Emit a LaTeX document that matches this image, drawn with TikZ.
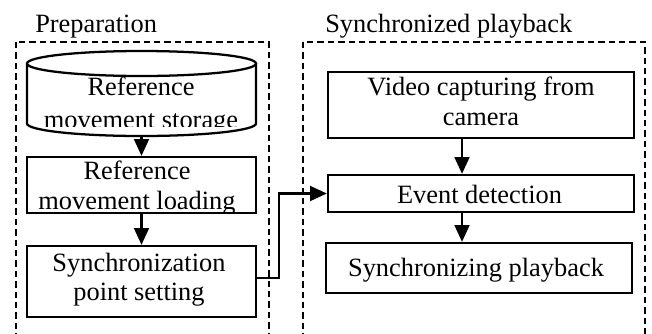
\documentclass[tikz,border=0pt]{standalone}
\usepackage{fontspec}
\setmainfont{Liberation Serif}
\usetikzlibrary{arrows.meta}

% two centred lines whose base is the first line; #1 scales the line pitch
\newcommand{\twolines}[3][1]{{\renewcommand{\arraystretch}{#1}%
  \begin{tabular}[t]{@{}c@{}}#2\\#3\end{tabular}}}

\tikzset{
  txt/.style={anchor=base, inner sep=0pt, font=\fontsize{19.8}{22.5}\selectfont},
  box/.style={draw, line width=1.7pt, inner sep=0pt},
  dashbox/.style={draw, line width=1.2pt, dash pattern=on 4.8pt off 3pt},
  arr/.style={line width=1.7pt, -{Triangle[length=12.5pt,width=11pt]}},
}

\begin{document}
\begin{tikzpicture}[x=0.75pt, y=-0.75pt]
\useasboundingbox (0,0) rectangle (652,333);
\clip (0,0) rectangle (652,333);

% group frames and their titles
\draw[dashbox] (16,42) rectangle (269,350);
\draw[dashbox] (303,42) rectangle (645,350);
\node[txt, anchor=base west] (prep) at (35,32.5) {Preparation};
\node[txt, anchor=base west] (sync) at (325,32.5) {Synchronized playback};

% storage cylinder
\draw[line width=1.7pt] (141.5,63.5) ellipse [x radius=85.875pt, y radius=9.375pt];
\draw[line width=1.7pt] (27,63.5) -- (27,123.5)
  arc [start angle=180, end angle=360, x radius=85.875pt, y radius=9.375pt]
  -- (256,63.5);
\coordinate (cylbot) at (141.5,136);
\begin{scope}
  \clip (0,0) rectangle (652,126);
  \node[txt] (cyltxt) at (141,95.7) {\twolines[1.087]{Reference}{movement storage}};
\end{scope}

% preparation steps
\node[box, minimum width=171.75pt, minimum height=42pt] (load) at (141.5,185) {};
\begin{scope}
  \clip (0,0) rectangle (652,213);
  \node[txt] (loadtxt) at (137,179.5) {\twolines{Reference}{movement loading}};
\end{scope}
\node[box, minimum width=171.75pt, minimum height=53.25pt] (syncpt) at (141.5,281.5) {};
\node[txt] (syncpttxt) at (139,271.5) {\twolines[0.95]{Synchronization}{point setting}};

% playback steps
\node[box, minimum width=229.5pt, minimum height=49.5pt] (video) at (481,105) {};
\node[txt] (videotxt) at (481,95) {\twolines{Video capturing from}{camera}};
\node[box, minimum width=229.5pt, minimum height=27.75pt] (event) at (481,193.5) {};
\node[txt] (eventtxt) at (479.5,203) {Event detection};
\node[box, minimum width=229.5pt, minimum height=37.5pt] (play) at (479,268) {};
\node[txt] (playtxt) at (476,276) {Synchronizing playback};

% connectors
\coordinate (rx) at (462,0);
\coordinate (jx) at (279,0);
\coordinate (jy) at (0,278);
\draw[arr] (cylbot) -- (load.north);
\draw[arr] (load.south) -- (syncpt.north);
\draw[arr] (syncpt.east |- jy) -- (jx |- jy) -- (jx |- event.west) -- (event.west);
\draw[arr] (video.south -| rx) -- (event.north -| rx);
\draw[arr] (event.south -| rx) -- (play.north -| rx);
\end{tikzpicture}
\end{document}
